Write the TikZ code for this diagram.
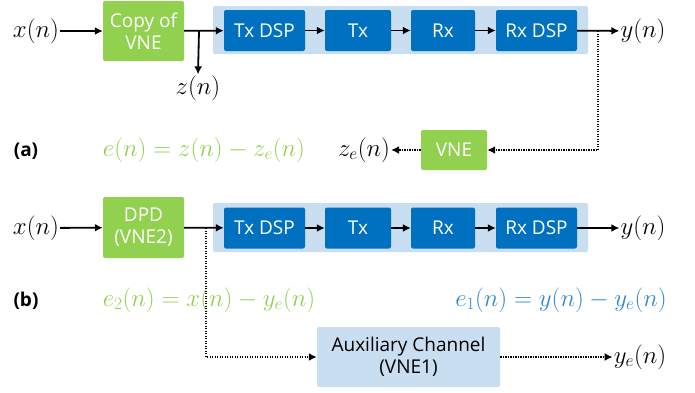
\documentclass[tikz,border=0pt]{standalone}
\usepackage{fontspec}
\setsansfont{Open Sans}
\usetikzlibrary{arrows.meta}
\definecolor{vgreen}{HTML}{92D050}
\definecolor{dblue}{HTML}{0070C0}
\definecolor{lblue}{HTML}{C9DEF0}
\definecolor{eblue}{HTML}{2E86D4}
\tikzset{
  boxbase/.style={rounded corners=2pt, text=white, align=center, inner sep=0pt,
    font=\sffamily\fontsize{19}{22}\selectfont},
  greenbox/.style={boxbase, fill=vgreen},
  bluebox/.style={boxbase, fill=dblue, minimum height=41pt},
  auxbox/.style={boxbase, fill=lblue, text=black},
  bgbox/.style={fill=lblue, rounded corners=2pt},
  mathlbl/.style={inner sep=1pt, font=\fontsize{24}{28}\selectfont},
  tag/.style={inner sep=0pt, font=\sffamily\bfseries\fontsize{19}{22}\selectfont},
  arr/.style={line width=1.8pt, -{Latex[length=8pt,width=8pt]}},
  dotarr/.style={line width=1.8pt, dash pattern=on 1.4pt off 1.1pt, -{Latex[length=8pt,width=8pt]}},
  plain/.style={line width=1.8pt}
}
\begin{document}
\begin{tikzpicture}[x=1pt,y=-1pt]
\useasboundingbox (0,0) rectangle (695,392);
% ---------- (a) ----------
\fill[bgbox] (213,6) rectangle (588,54);
\node[greenbox, minimum width=81pt, minimum height=60pt] (copy) at (143.5,31) {Copy of\\VNE};
\node[bluebox, minimum width=81pt] (txdspA) at (264.5,30.5) {Tx DSP};
\node[bluebox, minimum width=66pt] (txA) at (358,30.5) {Tx};
\node[bluebox, minimum width=64pt] (rxA) at (443,30.5) {Rx};
\node[bluebox, minimum width=81pt] (rxdspA) at (536.5,30.5) {Rx DSP};
\node[mathlbl] (xA) at (36,31) {$x(n)$};
\node[mathlbl] (yA) at (643,31) {$y(n)$};
\node[mathlbl] (zA) at (198,88) {$z(n)$};
\node[greenbox, minimum width=66pt, minimum height=40pt] (vne) at (454,150) {VNE};
\node[mathlbl] (zeA) at (364,150) {$z_e(n)$};
\node[tag] (tagA) at (26,151) {(a)};
\node[mathlbl, text=vgreen] (eqA) at (204,150) {$e(n)=z(n)-z_e(n)$};
\coordinate (brA) at (199,31);
\coordinate (tapA) at (598,31);
\draw[arr] (xA) -- (copy);
\draw[arr] (copy) -- (txdspA);
\draw[arr] (brA) -- (zA.north);
\draw[arr] (txdspA) -- (txA);
\draw[arr] (txA) -- (rxA);
\draw[arr] (rxA) -- (rxdspA);
\draw[arr] (rxdspA) -- (yA);
\draw[dotarr] (tapA) |- (vne.east);
\draw[dotarr] (vne) -- (zeA);
% ---------- (b) ----------
\fill[bgbox] (213,203) rectangle (588,252);
\node[greenbox, minimum width=81pt, minimum height=61pt] (dpd) at (143.5,227.5) {DPD\\(VNE2)};
\node[bluebox, minimum width=81pt] (txdspB) at (264.5,228) {Tx DSP};
\node[bluebox, minimum width=66pt] (txB) at (358,228) {Tx};
\node[bluebox, minimum width=64pt] (rxB) at (443,228) {Rx};
\node[bluebox, minimum width=81pt] (rxdspB) at (536.5,228) {Rx DSP};
\node[mathlbl] (xB) at (36,228) {$x(n)$};
\node[mathlbl] (yB) at (643,228) {$y(n)$};
\node[auxbox, minimum width=183pt, minimum height=60pt] (aux) at (408.5,357) {Auxiliary Channel\\(VNE1)};
\node[mathlbl] (yeB) at (640,357) {$y_e(n)$};
\node[tag] (tagB) at (26,301) {(b)};
\node[mathlbl, text=vgreen] (eqB) at (209,300) {$e_2(n)=x(n)-y_e(n)$};
\node[mathlbl, text=eblue] (eqC) at (561,300) {$e_1(n)=y(n)-y_e(n)$};
\coordinate (tapB) at (206,228);
\draw[arr] (xB) -- (dpd);
\draw[arr] (dpd) -- (txdspB);
\draw[arr] (txdspB) -- (txB);
\draw[arr] (txB) -- (rxB);
\draw[arr] (rxB) -- (rxdspB);
\draw[arr] (rxdspB) -- (yB);
\draw[dotarr] (tapB) |- (aux.west);
\draw[dotarr] (aux) -- (yeB);
\end{tikzpicture}
\end{document}
